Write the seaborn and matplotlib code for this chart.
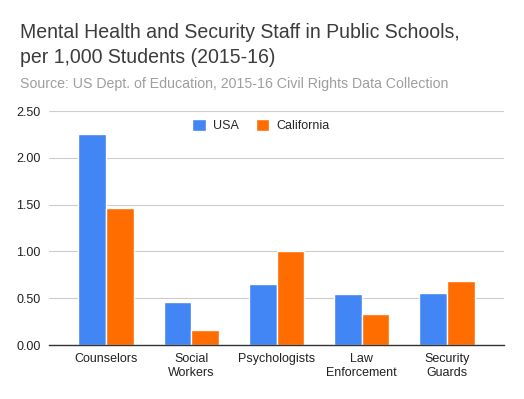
import pandas as pd
import matplotlib
matplotlib.use("Agg")
import matplotlib.pyplot as plt
import seaborn as sns

# Data
categories = ["Counselors", "Social\nWorkers", "Psychologists", "Law\nEnforcement", "Security\nGuards"]
usa = [2.25, 0.46, 0.65, 0.55, 0.56]
california = [1.46, 0.16, 1.00, 0.33, 0.68]
series_names = ["USA", "California"]
y_ticks = [0.0, 0.5, 1.0, 1.5, 2.0, 2.5]

colors = ["#4285F4", "#FF6D01"]


def build_frame():
    """Long-form table for seaborn."""
    rows = []
    for name, values in zip(series_names, [usa, california]):
        for cat, v in zip(categories, values):
            rows.append({"category": cat, "series": name, "value": v})
    return pd.DataFrame(rows)


def main():
    sns.set_style("white")
    plt.rcParams["font.family"] = ["Liberation Sans", "DejaVu Sans"]

    df = build_frame()
    fig = plt.figure(figsize=(5.24, 3.99), dpi=100)
    ax = fig.add_axes([0.0935, 0.1353, 0.8685, 0.5865])

    sns.barplot(data=df, x="category", y="value", hue="series",
                palette=colors, width=0.65, edgecolor="white", linewidth=1,
                saturation=1, ax=ax)

    ax.set_ylim(0, 2.5)
    ax.set_yticks(y_ticks)
    ax.set_yticklabels([f"{t:.2f}" for t in y_ticks], fontsize=9, color="#222222")
    ax.tick_params(axis="x", labelsize=9, colors="#222222", length=0, pad=6)
    ax.tick_params(axis="y", length=0, pad=6)
    ax.set_xlabel("")
    ax.set_ylabel("")
    ax.set_xlim(-0.67, len(categories) - 0.33)

    ax.grid(axis="y", color="#cccccc", linewidth=0.8)
    ax.set_axisbelow(True)
    for side in ["left", "right", "top"]:
        ax.spines[side].set_visible(False)
    ax.spines["bottom"].set_color("#333333")
    ax.spines["bottom"].set_linewidth(1)
    ax.spines["bottom"].set_zorder(5)

    ax.legend(loc="upper center", bbox_to_anchor=(0.466, 1.015), ncol=2,
              frameon=False, fontsize=9, handlelength=1.1, handleheight=1.1,
              handletextpad=0.6, columnspacing=1.3)

    fig.text(0.038, 0.905, "Mental Health and Security Staff in Public Schools,",
             fontsize=14.05, color="#3c3c3c")
    fig.text(0.038, 0.843, "per 1,000 Students (2015-16)",
             fontsize=14.05, color="#3c3c3c")
    fig.text(0.038, 0.779, "Source: US Dept. of Education, 2015-16 Civil Rights Data Collection",
             fontsize=10.15, color="#9e9e9e")

    fig.savefig("out.png", dpi=100, facecolor="white")


if __name__ == "__main__":
    main()
